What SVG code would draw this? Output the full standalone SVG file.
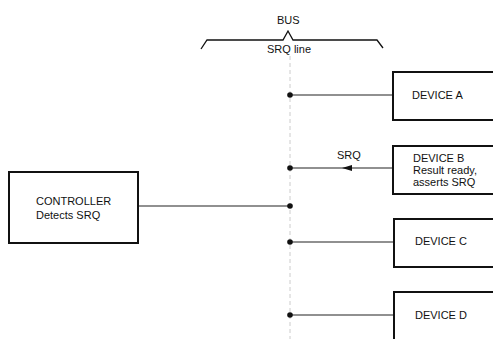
<svg xmlns="http://www.w3.org/2000/svg" width="493" height="339" viewBox="0 0 493 339">
<style>
text{font-family:"Liberation Sans",Arial,sans-serif;font-size:11px;fill:#111}
.box{fill:#fff;stroke:#111;stroke-width:2}
.wire{stroke:#222;stroke-width:1.2;fill:none}
.dot{fill:#111}
</style>
<defs>
<marker id="arr" viewBox="0 0 10 10" refX="0" refY="5" markerWidth="9" markerHeight="6" orient="auto" markerUnits="userSpaceOnUse">
<path d="M10,0 L0,5 L10,10 z" fill="#111"/>
</marker>
</defs>
<rect width="493" height="339" fill="#fff"/>
<g id="bus">
<text x="277" y="24">BUS</text>
<path d="M201,49 L207,40 L283,40 L288,31 L293,40 L377,40 L383,48" fill="none" stroke="#111" stroke-width="1.3"/>
<text x="267" y="53">SRQ line</text>
<line x1="290" y1="56" x2="290" y2="339" stroke="#ccc" stroke-width="1" stroke-dasharray="4,3"/>
</g>
<g id="connectors">
<line class="wire" x1="290" y1="95" x2="393" y2="95"/>
<line class="wire" x1="290" y1="168" x2="393" y2="168"/>
<path d="M352,165 L342,168 L352,171 z" fill="#111"/>
<line class="wire" x1="139" y1="206" x2="290" y2="206"/>
<line class="wire" x1="290" y1="242" x2="394" y2="242"/>
<line class="wire" x1="290" y1="315" x2="394" y2="315"/>
<circle class="dot" cx="290" cy="95" r="2.8"/>
<circle class="dot" cx="290" cy="168" r="2.8"/>
<circle class="dot" cx="290" cy="206" r="2.8"/>
<circle class="dot" cx="290" cy="242" r="2.8"/>
<circle class="dot" cx="290" cy="315" r="2.8"/>
<text x="337" y="159">SRQ</text>
</g>
<g id="controller">
<rect class="box" x="9" y="172" width="129" height="71"/>
<text x="36" y="205">CONTROLLER</text>
<text x="36" y="219">Detects SRQ</text>
</g>
<g id="deviceA">
<rect class="box" x="393" y="72" width="110" height="48"/>
<text x="412" y="99">DEVICE A</text>
</g>
<g id="deviceB">
<rect class="box" x="393" y="146" width="110" height="48"/>
<text x="413" y="162">DEVICE B</text>
<text x="413" y="174" font-size="10">Result ready,</text>
<text x="413" y="186" font-size="10">asserts SRQ</text>
</g>
<g id="deviceC">
<rect class="box" x="394" y="219" width="110" height="48"/>
<text x="415" y="245">DEVICE C</text>
</g>
<g id="deviceD">
<rect class="box" x="394" y="292" width="110" height="60"/>
<text x="415" y="319">DEVICE D</text>
</g>
</svg>
